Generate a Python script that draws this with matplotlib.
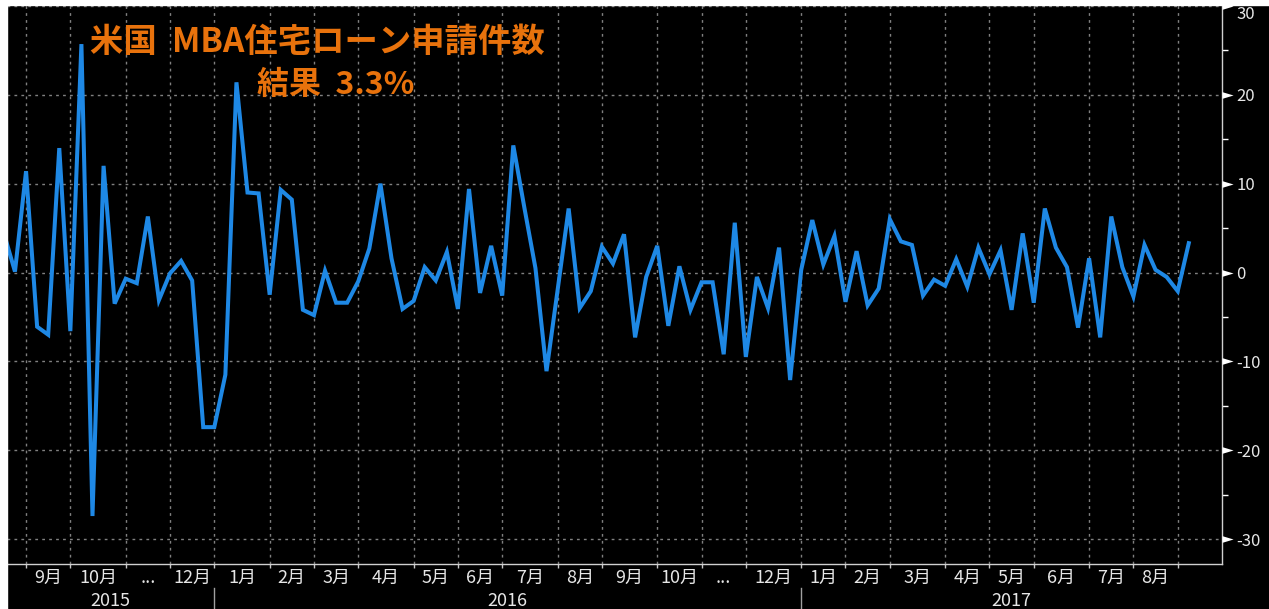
import numpy as np
import pandas as pd
import matplotlib
matplotlib.use('Agg')
import matplotlib.pyplot as plt
from matplotlib.patches import Rectangle

plt.rcParams['font.family'] = ['Noto Sans CJK JP', 'DejaVu Sans']
plt.rcParams['axes.unicode_minus'] = False

# MBA mortgage applications, weekly % change (Friday-dated weeks)
weeks = pd.date_range('2015-08-21', periods=108, freq='W-FRI')
values = [
    4.4, 0.1, 11.4, -6.1, -7.0, 14.0, -6.6, 25.7, -27.4, 12.0,
    -3.5, -0.7, -1.2, 6.3, -3.1, -0.1, 1.3, -0.9, -17.4, -17.4,
    -11.5, 21.4, 9.0, 8.9, -2.5, 9.3, 8.2, -4.2, -4.8, 0.2,
    -3.4, -3.4, -1.0, 2.7, 10.0, 1.6, -4.1, -3.2, 0.6, -0.9,
    2.3, -4.1, 9.4, -2.3, 3.0, -2.6, 14.3, 7.3, 0.5, -11.1,
    -2.0, 7.2, -4.0, -2.1, 2.9, 1.0, 4.3, -7.3, -0.5, 3.0,
    -6.0, 0.7, -4.2, -1.1, -1.1, -9.2, 5.6, -9.5, -0.5, -4.0,
    2.8, -12.1, 0.3, 5.9, 0.9, 4.1, -3.3, 2.4, -3.7, -1.8,
    6.0, 3.5, 3.1, -2.6, -0.8, -1.5, 1.5, -1.6, 2.8, -0.2,
    2.5, -4.2, 4.4, -3.4, 7.2, 2.8, 0.6, -6.2, 1.6, -7.3,
    6.3, 0.6, -2.7, 3.1, 0.3, -0.5, -2.1, 3.3,
]
month_names = ['9月', '10月', '...', '12月',
               '1月', '2月', '3月', '4月', '5月', '6月', '7月', '8月',
               '9月', '10月', '...', '12月',
               '1月', '2月', '3月', '4月', '5月', '6月', '7月', '8月']
years = ['2015', '2016', '2017']
y_major = [-30, -20, -10, 0, 10, 20, 30]
y_minor = [-25, -15, -5, 5, 15, 25]
title_1 = '米国  MBA住宅ローン申請件数'
title_2 = '結果  3.3%'

line_color = '#1E88E5'
title_color = '#E8720C'
text_color = '#e6e6e6'
grid_color = '#808080'

x = np.arange(len(values))
month_starts = [i for i in range(1, len(weeks)) if weeks[i].month != weeks[i - 1].month]
jan_starts = [i for i in month_starts if weeks[i].month == 1]
x_left, x_right = 0.28, 110.0

W, H = 1269, 609
fig = plt.figure(figsize=(W / 100, H / 100), dpi=100, facecolor='black')
ax = fig.add_axes([7 / W, (H - 564) / H, (1222 - 7) / W, (564 - 5) / H])
ax.set_facecolor('black')

# white border strips (top and left)
fig.patches.append(Rectangle((0, 1 - 5 / H), 1, 5 / H, transform=fig.transFigure,
                             color='white', zorder=0))
fig.patches.append(Rectangle((0, 0), 7 / W, 1, transform=fig.transFigure,
                             color='white', zorder=0))

ax.plot(x, values, color=line_color, lw=2.9, solid_joinstyle='miter', zorder=3)

ax.set_xlim(x_left, x_right)
ax.set_ylim(-32.8, 30.1)

# x axis: month starts as ticks, labels centred in each month
ax.set_xticks(month_starts)
ax.set_xticklabels([])
mids = [(a + b) / 2 for a, b in zip(month_starts[:-1], month_starts[1:])]
ax.set_xticks(mids, labels=month_names, minor=True)
ax.tick_params(axis='x', which='major', length=3, width=1, color='#c8c8c8', direction='out')
ax.tick_params(axis='x', which='minor', length=0, pad=3.5, labelsize=13, labelcolor=text_color)

# year row with separators
bounds = [x_left] + jan_starts + [x_right]
for yr, a, b in zip(years, bounds[:-1], bounds[1:]):
    ax.text((a + b) / 2, -0.067, yr, transform=ax.get_xaxis_transform(),
            ha='center', va='center', fontsize=13, color=text_color, clip_on=False)
for j in jan_starts:
    ax.axvline(j, ymin=-0.081, ymax=-0.043, color='#a0a0a0', lw=1, clip_on=False)

# y axis on the right
ax.yaxis.tick_right()
ax.set_yticks(y_major)
ax.set_yticks(y_minor, minor=True)
ax.tick_params(axis='y', which='major', length=0, pad=10.5, labelsize=12, labelcolor=text_color)
ax.tick_params(axis='y', which='minor', length=4.3, width=1, color='white', direction='out')
ax.yaxis.get_major_ticks()[-1].label2.set_va('top')
tri = [(0, -0.3), (1, 0), (0, 0.3)]
ax.plot(np.ones(len(y_major)), y_major, transform=ax.get_yaxis_transform(), ls='none',
        marker=tri, ms=16, color='white', mec='none', clip_on=False, zorder=5)

ax.grid(True, which='major', color=grid_color, linestyle=(0, (2, 3)), lw=1)
ax.set_axisbelow(True)

for side in ['top', 'left']:
    ax.spines[side].set_visible(False)
for side in ['right', 'bottom']:
    ax.spines[side].set_color('#d0d0d0')
    ax.spines[side].set_linewidth(1)

fig.text(90 / W, 1 - 42 / H, title_1, color=title_color, fontsize=24,
         fontweight='bold', ha='left', va='center')
fig.text(257 / W, 1 - 85 / H, title_2, color=title_color, fontsize=23,
         fontweight='bold', ha='left', va='center')

fig.savefig('out.png', dpi=100, facecolor=fig.get_facecolor())
